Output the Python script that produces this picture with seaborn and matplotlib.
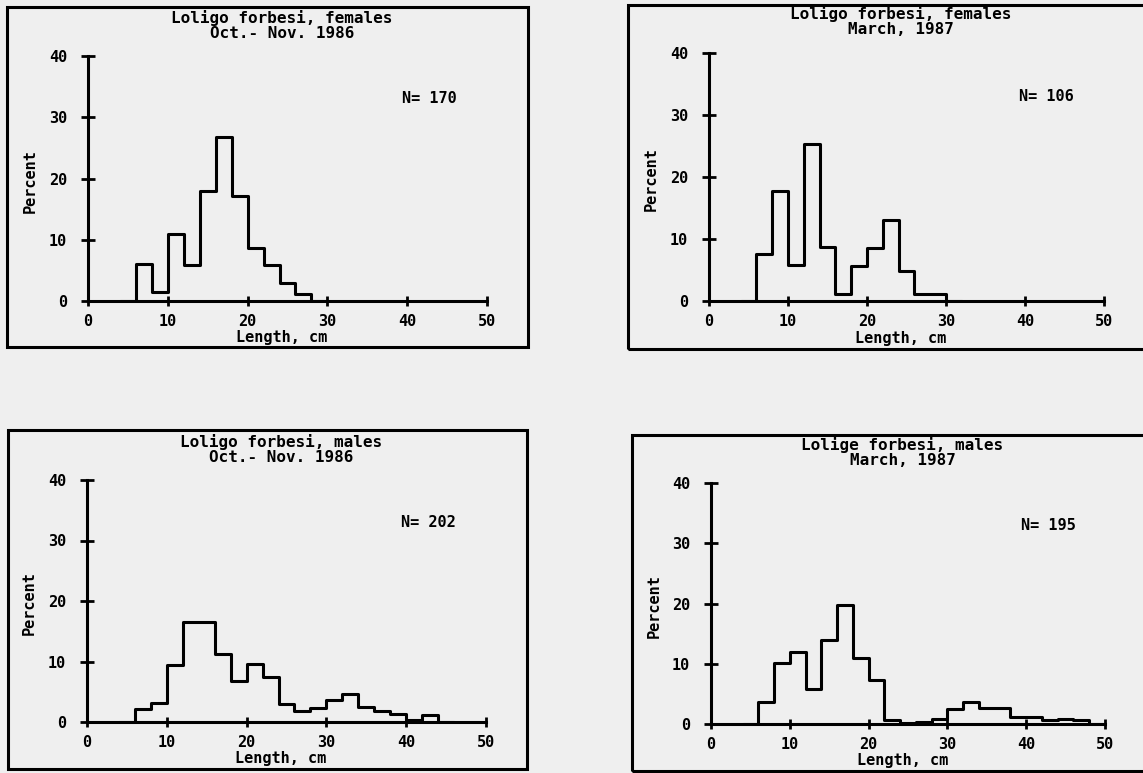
import seaborn as sns
import matplotlib.pyplot as plt
from matplotlib.patches import Rectangle
import pandas as pd

sns.set_style("white")
plt.rcParams['font.family'] = ['DejaVu Sans Mono']
plt.rcParams['font.weight'] = 'bold'
plt.rcParams['text.color'] = 'black'
plt.rcParams['xtick.color'] = 'black'
plt.rcParams['ytick.color'] = 'black'

# length classes: 2 cm bins starting at 6 cm
bin_width = 2
bin_start = 6

# percent per length class
fem_oct86 = [6.1, 1.5, 10.9, 5.8, 18.0, 26.8, 17.1, 8.7, 5.8, 2.9, 1.1]
fem_mar87 = [7.6, 17.8, 5.8, 25.4, 8.7, 1.2, 5.7, 8.5, 13.1, 4.9, 1.1, 1.1]
mal_oct86 = [2.1, 3.1, 9.4, 16.6, 16.6, 11.3, 6.7, 9.6, 7.4, 2.9, 1.8, 2.3,
             3.6, 4.6, 2.5, 1.8, 1.3, 0.4, 1.2]
mal_mar87 = [3.6, 10.1, 11.9, 5.8, 14.0, 19.7, 10.9, 7.3, 0.6, 0.1, 0.4, 0.9,
             2.5, 3.6, 2.7, 2.7, 1.1, 1.1, 0.6, 0.9, 0.6]

titles = ["Loligo forbesi, females\nOct.- Nov. 1986",
          "Loligo forbesi, females\nMarch, 1987",
          "Loligo forbesi, males\nOct.- Nov. 1986",
          "Lolige forbesi, males\nMarch, 1987"]
sample_sizes = [170, 106, 202, 195]
series = [fem_oct86, fem_mar87, mal_oct86, mal_mar87]

bg = '#efefef'
W, H = 1143, 773
fig = plt.figure(figsize=(W / 100, H / 100), dpi=100, facecolor=bg)


def fx(px):
    return px / W


def fy(py):
    return 1 - py / H


# axes boxes in pixels: left, right, bottom(y0), top(y40)
axes_px = [(88, 487, 301, 56), (709, 1104, 301, 53),
           (87, 486, 722, 480), (711, 1105, 724, 483)]
# panel frames in pixels: left, top, right, bottom
frames_px = [(7, 7, 528, 347), (628, 5, 1160, 349),
             (8, 430, 527, 769), (632, 435, 1160, 771)]

for (l, t, r, b) in frames_px:
    fig.add_artist(Rectangle((fx(l), fy(b)), fx(r - l), (b - t) / H,
                             transform=fig.transFigure, fill=False,
                             edgecolor='black', linewidth=2.2))

fs = 11.5
for i, vals in enumerate(series):
    l, r, b, t = axes_px[i]
    ax = fig.add_axes([fx(l), fy(b), fx(r - l), (b - t) / H])
    ax.set_facecolor('none')
    # empty class on each side so the outline drops to the baseline
    padded = [0] + vals + [0]
    lo = bin_start - bin_width
    edges = [lo + bin_width * k for k in range(len(padded) + 1)]
    df = pd.DataFrame({'length': [e + bin_width / 2 for e in edges[:-1]],
                       'pct': padded})
    sns.histplot(data=df, x='length', weights='pct', bins=edges,
                 element='step', fill=False, color='black', linewidth=2.2,
                 ax=ax)
    ax.set_xlim(0, 50)
    ax.set_ylim(0, 40)
    ax.set_xticks([0, 10, 20, 30, 40, 50])
    ax.set_yticks([0, 10, 20, 30, 40])
    for s in ['top', 'right']:
        ax.spines[s].set_visible(False)
    for s in ['left', 'bottom']:
        ax.spines[s].set_linewidth(2.2)
        ax.spines[s].set_color('black')
    ax.tick_params(axis='y', left=True, direction='inout', length=10,
                   width=2, pad=10, labelsize=fs - 0.5)
    ax.tick_params(axis='x', bottom=True, direction='inout', length=7,
                   width=2, pad=6, labelsize=fs - 0.5)
    for lab in ax.get_xticklabels() + ax.get_yticklabels():
        lab.set_fontweight('bold')
    ax.set_xlabel('')
    ax.set_ylabel('')
    ax.text(0.486, -0.15, 'Length, cm', transform=ax.transAxes,
            ha='center', va='center', fontsize=fs - 0.5, fontweight='bold')
    ax.text(-0.145, 0.49, 'Percent', transform=ax.transAxes, rotation=90,
            ha='center', va='center', fontsize=fs - 0.5, fontweight='bold')
    ax.text(0.486, 1.126, titles[i], transform=ax.transAxes,
            ha='center', va='center', fontsize=fs, fontweight='bold',
            linespacing=1.02)
    ax.text(39.3, 33, 'N= %d' % sample_sizes[i], ha='left', va='center',
            fontsize=fs - 0.5, fontweight='bold')

plt.savefig('out.png', dpi=100, facecolor=bg)
plt.close()
